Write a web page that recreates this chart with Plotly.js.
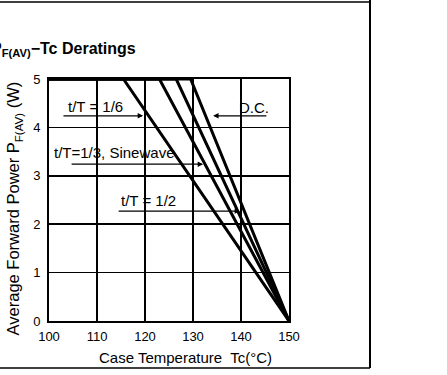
<!DOCTYPE html>
<html><head><meta charset="utf-8">
<script src="https://cdn.plot.ly/plotly-3.0.1.min.js"></script>
<style>html,body{margin:0;padding:0;background:#fff;}#c{width:447px;height:375px;}</style>
</head><body><div id="c"></div>
<script>
// Derating lines: case temperature (°C) vs average forward power (W)
const seriesNames = ["t/T = 1/6", "t/T=1/3, Sinewave", "t/T = 1/2", "D.C."];
const tempRated = [115.5, 123, 126.5, 129.5];   // temperature where derating starts
const tempMin = 100, tempMax = 150;
const powerMax = 5, powerMin = 0;
const xTicks = [100, 110, 120, 130, 140, 150];
const yTicks = [0, 1, 2, 3, 4, 5];

// label positions (data units) and arrow tails/heads
const labelX = [109.6, 113.5, 120.8, 142.7];
const labelY = [4.44, 3.49, 2.50, 4.42];
const arrowTailX = [102.7, 104.4, 114.2, 145.6];
const arrowHeadX = [119.6, 132.1, 139.8, 134.2];
const arrowY = [4.24, 3.24, 2.27, 4.24];

const font = "Liberation Sans, Arial, Helvetica, sans-serif";
const traces = tempRated.map((t, i) => ({
  x: [tempMin, t, tempMax],
  y: [powerMax, powerMax, powerMin],
  mode: "lines", type: "scatter",
  line: {color: "#000", width: 3},
  name: seriesNames[i], showlegend: false, hoverinfo: "skip"
}));

const annotations = [];
seriesNames.forEach((n, i) => {
  annotations.push({x: labelX[i], y: labelY[i], xref: "x", yref: "y", text: n,
    showarrow: false, font: {family: font, size: 15, color: "#000"}});
  annotations.push({x: arrowHeadX[i], y: arrowY[i], ax: arrowTailX[i], ay: arrowY[i],
    xref: "x", yref: "y", axref: "x", ayref: "y", text: "", showarrow: true,
    arrowhead: 2, arrowsize: 0.9, arrowwidth: 1.2, arrowcolor: "#000", standoff: 0, startstandoff: 0});
});
annotations.push({x: 0.372, y: 1.12, xref: "paper", yref: "paper", xanchor: "right", yanchor: "middle",
  text: "<b>P<sub>F(AV)</sub>−Tc Deratings</b>", showarrow: false, font: {family: font, size: 16, color: "#000"}});
annotations.push({x: -0.142, y: 0.465, xref: "paper", yref: "paper", xanchor: "center", yanchor: "middle",
  textangle: -90, text: "Average Forward Power P<sub>F(AV)</sub> (W)", showarrow: false,
  font: {family: font, size: 16.5, color: "#000"}});
annotations.push({x: 0.569, y: -0.15, xref: "paper", yref: "paper", xanchor: "center", yanchor: "middle",
  text: "Case Temperature  Tc(°C)", showarrow: false, font: {family: font, size: 15, color: "#000"}});

const shapes = [
  {type: "line", xref: "paper", yref: "paper", x0: 1.3375, x1: 1.3375, y0: -0.194, y1: 1.33, line: {color: "#000", width: 2}},
  {type: "line", xref: "paper", yref: "paper", x0: -0.25, x1: 1.3375, y0: 1.318, y1: 1.318, line: {color: "#000", width: 1.5}},
  {type: "line", xref: "paper", yref: "paper", x0: -0.25, x1: 1.3375, y0: -0.194, y1: -0.194, line: {color: "#000", width: 1.5}}
];

const axisCommon = {showline: true, mirror: true, linecolor: "#000", linewidth: 2,
  showgrid: true, gridcolor: "#000", gridwidth: 1.5, zeroline: false, ticks: "",
  tickfont: {family: font, size: 13, color: "#000"}, fixedrange: true};

Plotly.newPlot("c", traces, {
  width: 447, height: 375,
  margin: {l: 49, r: 158, t: 79, b: 54},
  paper_bgcolor: "#fff", plot_bgcolor: "#fff",
  xaxis: Object.assign({}, axisCommon, {range: [tempMin, tempMax], tickvals: xTicks, ticklabelstandoff: 2}),
  yaxis: Object.assign({}, axisCommon, {range: [powerMin, powerMax], tickvals: yTicks, ticklabelstandoff: 4}),
  annotations: annotations, shapes: shapes, showlegend: false
}, {staticPlot: true, displayModeBar: false});
</script></body></html>
